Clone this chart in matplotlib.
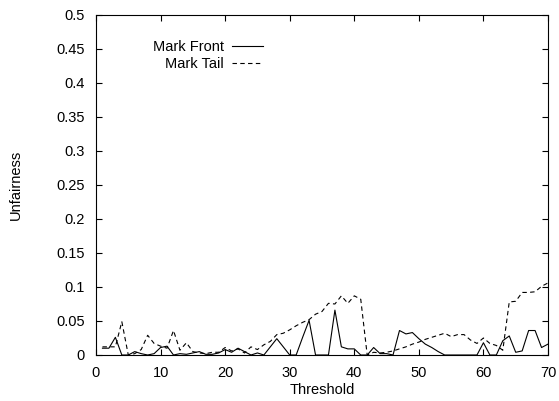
import numpy as np
import matplotlib
matplotlib.use("Agg")
import matplotlib.pyplot as plt

plt.rcParams['font.family'] = ['Liberation Sans', 'DejaVu Sans']
plt.rcParams['font.size'] = 10.5

# threshold values 1..70
threshold = np.arange(1, 71)

# unfairness
mark_front = [0.010, 0.010, 0.026, 0.0, 0.0, 0.005, 0.002, 0.0, 0.002, 0.011,
              0.013, 0.0, 0.002, 0.001, 0.003, 0.005, 0.001, 0.001, 0.003, 0.008,
              0.004, 0.010, 0.005, 0.0, 0.003, 0.0, 0.012, 0.024, 0.012, 0.0,
              0.0, 0.026, 0.051, 0.0, 0.0, 0.0, 0.066, 0.012, 0.009, 0.009,
              0.0, 0.0, 0.011, 0.002, 0.002, 0.0, 0.036, 0.031, 0.033, 0.024,
              0.016, 0.011, 0.005, 0.0, 0.0, 0.0, 0.0, 0.0, 0.0, 0.018,
              0.0, 0.0, 0.021, 0.028, 0.004, 0.006, 0.036, 0.036, 0.011, 0.016]

mark_tail = [0.012, 0.012, 0.012, 0.049, 0.0, 0.002, 0.008, 0.029, 0.017, 0.013,
             0.010, 0.036, 0.007, 0.018, 0.005, 0.003, 0.002, 0.004, 0.004, 0.011,
             0.006, 0.009, 0.003, 0.012, 0.008, 0.015, 0.020, 0.030, 0.032, 0.037,
             0.043, 0.048, 0.052, 0.060, 0.064, 0.076, 0.075, 0.087, 0.076, 0.087,
             0.082, 0.0, 0.004, 0.003, 0.004, 0.006, 0.009, 0.012, 0.016, 0.019,
             0.023, 0.026, 0.029, 0.032, 0.027, 0.030, 0.030, 0.022, 0.017, 0.025,
             0.017, 0.014, 0.007, 0.078, 0.079, 0.092, 0.092, 0.093, 0.101, 0.106]

fig = plt.figure(figsize=(5.59, 4.01), dpi=100)
ax = fig.add_axes([96/559, 1 - 355/401, 452/559, 340/401])

ax.plot(threshold, mark_front, color='black', lw=0.8, label='Mark Front')
ax.plot(threshold, mark_tail, color='black', lw=0.8, linestyle=(0, (4, 3)), label='Mark Tail')

ax.set_xlim(0, 70)
ax.set_ylim(0, 0.5)
ax.set_xticks(np.arange(0, 71, 10))
ax.set_yticks(np.arange(0, 0.501, 0.05))
ax.set_yticklabels(['0', '0.05', '0.1', '0.15', '0.2', '0.25', '0.3', '0.35', '0.4', '0.45', '0.5'])
ax.tick_params(direction='in', length=4, width=0.8, top=True, right=True, pad=8)
for s in ax.spines.values():
    s.set_linewidth(0.8)

ax.set_xlabel('Threshold', labelpad=2)
ax.set_ylabel('Unfairness', labelpad=24)

ax.legend(loc='upper right', bbox_to_anchor=(0.369, 0.926), frameon=False,
          markerfirst=False, handlelength=2.1, handletextpad=0.55,
          labelspacing=0.2, borderpad=0, borderaxespad=0)

fig.savefig('out.png', dpi=100)
